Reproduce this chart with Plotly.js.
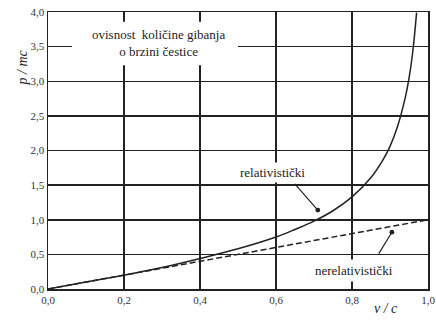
<!DOCTYPE html>
<html><head><meta charset="utf-8">
<script src="https://cdn.plot.ly/plotly-3.0.1.min.js"></script>
<style>html,body{margin:0;padding:0;background:#fff}</style>
</head><body><div id="chart" style="width:436px;height:325px"></div>
<script>
// values
const relV = [0, 0.1, 0.2, 0.3, 0.4, 0.5, 0.6, 0.65, 0.7, 0.75, 0.8, 0.85, 0.88, 0.9, 0.92, 0.94, 0.95, 0.96, 0.97];
const relP = [0, 0.10, 0.20, 0.31, 0.44, 0.58, 0.75, 0.86, 0.98, 1.13, 1.33, 1.61, 1.85, 2.06, 2.35, 2.76, 3.04, 3.43, 3.99];
const nonV = [0, 1.0];
const nonP = [0, 1.0];
const xTicks = [0, 0.2, 0.4, 0.6, 0.8, 1.0];
const yTicks = [0, 0.5, 1, 1.5, 2, 2.5, 3, 3.5, 4];
const labels = {
  title: "ovisnost  količine gibanja<br>o brzini čestice",
  rel: "relativistički",
  nonrel: "nerelativistički",
  yTitle: "<i>p / mc</i>",
  xTitle: "<i>v / c</i>"
};
const ink = '#222';
const FAM = 'Times New Roman, serif';
const font = {family: FAM, color: '#333', size: 11};

const traces = [
  {x: relV, y: relP, mode: 'lines', line: {color: ink, width: 1.5, shape: 'spline'}, hoverinfo: 'skip'},
  {x: nonV, y: nonP, mode: 'lines', line: {color: ink, width: 1.5, dash: '6px,3px'}, hoverinfo: 'skip'}
];

const pw = 436 - 48 - 8, ph = 325 - 12 - 36;
const layout = {
  width: 436, height: 325,
  margin: {l: 48, r: 8, t: 12, b: 36},
  showlegend: false,
  paper_bgcolor: '#fff', plot_bgcolor: '#fff',
  separators: ',.',
  font: font,
  xaxis: {range: [0, 1], tickvals: xTicks, tickformat: '.1f', showgrid: true, gridcolor: ink, gridwidth: 1.5,
          showline: true, mirror: true, linecolor: ink, linewidth: 1.5, zeroline: false, ticks: '', ticklen: 0,
          tickfont: font, fixedrange: true},
  yaxis: {range: [0, 4], tickvals: yTicks, tickformat: '.1f', showgrid: true, gridcolor: ink, gridwidth: 1.5,
          showline: true, mirror: true, linecolor: ink, linewidth: 1.5, zeroline: false, ticks: '', ticklen: 0,
          tickfont: font, fixedrange: true},
  shapes: [
    {type: 'rect', xref: 'x', yref: 'y', x0: 0.063, x1: 0.5, y0: 3.23, y1: 3.86, fillcolor: '#fff', line: {width: 0}, layer: 'above'}
  ],
  annotations: [
    {x: 0.29, y: 3.55, xref: 'x', yref: 'y', text: labels.title, showarrow: false, font: {family: FAM, size: 13, color: '#222'}, align: 'center'},
    {x: 0.592, y: 1.68, xref: 'x', yref: 'y', text: labels.rel, showarrow: false, bgcolor: '#fff', borderpad: 2,
     font: {family: FAM, size: 13, color: '#222'}},
    {x: 0.71, y: 1.14, ax: 0.646, ay: 1.54, xref: 'x', yref: 'y', axref: 'x', ayref: 'y', text: '', showarrow: true,
     arrowhead: 6, arrowsize: 1, arrowwidth: 1.2, arrowcolor: ink},
    {x: 0.805, y: 0.27, xref: 'x', yref: 'y', text: labels.nonrel, showarrow: false, bgcolor: '#fff', borderpad: 3,
     font: {family: FAM, size: 13, color: '#222'}},
    {x: 0.905, y: 0.82, ax: 0.868, ay: 0.49, xref: 'x', yref: 'y', axref: 'x', ayref: 'y', text: '', showarrow: true,
     arrowhead: 6, arrowsize: 1, arrowwidth: 1.2, arrowcolor: ink},
    {xref: 'paper', yref: 'paper', x: (13 - 48) / pw, y: (325 - 36 - 48) / ph, text: labels.yTitle, showarrow: false, textangle: -90,
     font: {family: FAM, size: 14, color: '#222'}},
    {xref: 'paper', yref: 'paper', x: (400 - 48) / pw, y: (325 - 36 - 318) / ph, text: labels.xTitle, showarrow: false,
     font: {family: FAM, size: 14, color: '#222'}}
  ]
};
Plotly.newPlot('chart', traces, layout, {staticPlot: true});
</script></body></html>
